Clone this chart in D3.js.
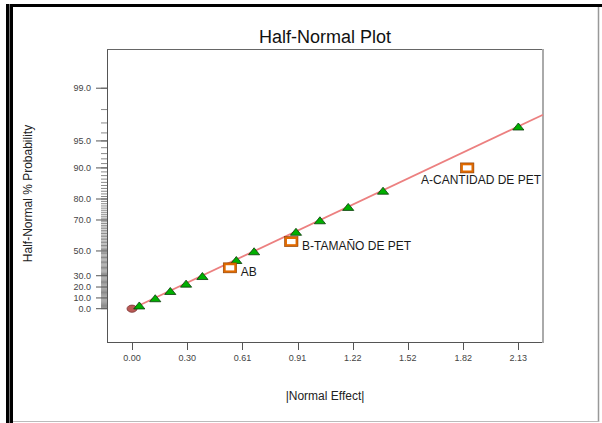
<!DOCTYPE html>
<html>
<head>
<meta charset="utf-8">
<script src="https://cdn.jsdelivr.net/npm/d3@7"></script>
<style>
  html, body { margin: 0; padding: 0; background: #fff; }
  svg { display: block; }
  text { font-family: Arial, "Liberation Sans", sans-serif; }
</style>
</head>
<body>
<svg id="chart" width="602" height="423"></svg>
<script>
// Error-term effects (triangles): |effect| and half-normal % probability
const errorEffects = [0.040, 0.128, 0.211, 0.298, 0.388, 0.575, 0.673, 0.904, 1.036, 1.192, 1.384, 2.130];
const errorProbs   = [3.3, 10.0, 16.7, 23.3, 30.0, 43.3, 50.0, 63.3, 70.0, 76.7, 83.3, 96.7];

// Selected model terms (squares)
const termNames   = ["A-CANTIDAD DE PET", "B-TAMAÑO DE PET", "AB"];
const termEffects = [1.848, 0.878, 0.540];
const termProbs   = [90.0, 56.7, 36.7];

// Axis ticks
const xTickValues = [0, 0.304, 0.609, 0.913, 1.217, 1.521, 1.826, 2.130];
const xTickLabels = ["0.00", "0.30", "0.61", "0.91", "1.22", "1.52", "1.82", "2.13"];
const yMajorTicks = [0, 10, 20, 30, 50, 70, 80, 90, 95, 99];
const yMinorTicks = d3.range(0, 100);

// Reference line through the origin: z = |effect| / sigma
const lineSigma = 1.0;

// Inverse standard normal CDF (Acklam's rational approximation)
function probit(p) {
  const a = [-3.969683028665376e+01, 2.209460984245205e+02, -2.759285104469687e+02,
             1.383577518672690e+02, -3.066479806614716e+01, 2.506628277459239e+00];
  const b = [-5.447609879822406e+01, 1.615858368580409e+02, -1.556989798598866e+02,
             6.680131188771972e+01, -1.328068155288572e+01];
  const c = [-7.784894002430293e-03, -3.223964580411365e-01, -2.400758277161838e+00,
             -2.549732539343734e+00, 4.374664141464968e+00, 2.938163982698783e+00];
  const d = [7.784695709041462e-03, 3.224671290700398e-01, 2.445134137142996e+00,
             3.754408661907416e+00];
  const pl = 0.02425, ph = 1 - pl;
  let q, r;
  if (p < pl) {
    q = Math.sqrt(-2 * Math.log(p));
    return (((((c[0]*q+c[1])*q+c[2])*q+c[3])*q+c[4])*q+c[5]) /
           ((((d[0]*q+d[1])*q+d[2])*q+d[3])*q+1);
  }
  if (p <= ph) {
    q = p - 0.5; r = q * q;
    return (((((a[0]*r+a[1])*r+a[2])*r+a[3])*r+a[4])*r+a[5])*q /
           (((((b[0]*r+b[1])*r+b[2])*r+b[3])*r+b[4])*r+1);
  }
  q = Math.sqrt(-2 * Math.log(1 - p));
  return -(((((c[0]*q+c[1])*q+c[2])*q+c[3])*q+c[4])*q+c[5]) /
          ((((d[0]*q+d[1])*q+d[2])*q+d[3])*q+1);
}
// half-normal score for a percent probability
const halfNormalZ = pct => probit(0.5 + pct / 200);

const svg = d3.select("#chart");
const plot = { left: 107, top: 49, right: 543, bottom: 342 };

const x = d3.scaleLinear().domain([-0.138, 2.266]).range([plot.left, plot.right]);
const yz = d3.scaleLinear().domain([-0.389, 3.034]).range([plot.bottom, plot.top]);
const y = pct => yz(halfNormalZ(pct));

// ---- outer window frame ----
svg.append("rect").attr("x", 6).attr("y", 4).attr("width", 596).attr("height", 3).attr("fill", "#000");
svg.append("rect").attr("x", 6).attr("y", 4).attr("width", 3).attr("height", 419).attr("fill", "#000");
svg.append("rect").attr("x", 9).attr("y", 4).attr("width", 1).attr("height", 419).attr("fill", "#777");
svg.append("rect").attr("x", 10).attr("y", 4).attr("width", 3).attr("height", 419).attr("fill", "#000");
svg.append("line").attr("x1", 598.5).attr("x2", 598.5).attr("y1", 7).attr("y2", 422)
  .attr("stroke", "#999").attr("stroke-width", 1.5);
svg.append("line").attr("x1", 13).attr("x2", 599).attr("y1", 421.5).attr("y2", 421.5)
  .attr("stroke", "#bbb").attr("stroke-width", 1);

// ---- title ----
svg.append("text")
  .attr("x", (plot.left + plot.right) / 2).attr("y", 43)
  .attr("text-anchor", "middle").attr("font-size", 18).attr("fill", "#111")
  .text("Half-Normal Plot");

// ---- y axis minor + major ticks ----
const yAxisG = svg.append("g");
yAxisG.selectAll("line.minor").data(yMinorTicks).join("line")
  .attr("class", "minor")
  .attr("x1", plot.left - 6).attr("x2", plot.left)
  .attr("y1", d => y(d)).attr("y2", d => y(d))
  .attr("stroke", "#8a8a8a").attr("stroke-width", 1);
yAxisG.selectAll("line.major").data(yMajorTicks).join("line")
  .attr("class", "major")
  .attr("x1", plot.left - 11).attr("x2", plot.left)
  .attr("y1", d => y(d)).attr("y2", d => y(d))
  .attr("stroke", "#555").attr("stroke-width", 1);
yAxisG.selectAll("text").data(yMajorTicks).join("text")
  .attr("x", plot.left - 16).attr("y", d => y(d) + 3.2)
  .attr("text-anchor", "end").attr("font-size", 9).attr("fill", "#444")
  .text(d => d3.format(".1f")(d));

// ---- x axis ticks ----
const xAxisG = svg.append("g");
xAxisG.selectAll("line").data(xTickValues).join("line")
  .attr("x1", d => Math.round(x(d)) + 0.5).attr("x2", d => Math.round(x(d)) + 0.5)
  .attr("y1", plot.bottom).attr("y2", plot.bottom + 8)
  .attr("stroke", "#555").attr("stroke-width", 1);
xAxisG.selectAll("text").data(xTickValues).join("text")
  .attr("x", d => x(d)).attr("y", plot.bottom + 18.5)
  .attr("text-anchor", "middle").attr("font-size", 9).attr("fill", "#444")
  .text((d, i) => xTickLabels[i]);

// ---- plot frame ----
svg.append("line").attr("x1", plot.left + 0.5).attr("x2", plot.left + 0.5)
  .attr("y1", plot.top).attr("y2", plot.bottom + 0.5).attr("stroke", "#555");
svg.append("line").attr("x1", plot.left).attr("x2", plot.right)
  .attr("y1", plot.bottom + 0.5).attr("y2", plot.bottom + 0.5).attr("stroke", "#555");
svg.append("line").attr("x1", plot.left).attr("x2", plot.right)
  .attr("y1", plot.top + 0.5).attr("y2", plot.top + 0.5).attr("stroke", "#666");
svg.append("line").attr("x1", plot.right).attr("x2", plot.right)
  .attr("y1", plot.top).attr("y2", plot.bottom + 1).attr("stroke", "#aaa").attr("stroke-width", 2);

// ---- axis titles ----
svg.append("text")
  .attr("x", (plot.left + plot.right) / 2).attr("y", 400)
  .attr("text-anchor", "middle").attr("font-size", 12).attr("fill", "#222")
  .text("|Normal Effect|");
svg.append("text")
  .attr("transform", `translate(32,${(plot.top + plot.bottom) / 2 - 2}) rotate(-90)`)
  .attr("text-anchor", "middle").attr("font-size", 12).attr("fill", "#222")
  .text("Half-Normal % Probability");

// ---- reference line ----
const xMax = x.domain()[1];
svg.append("line")
  .attr("x1", x(0)).attr("y1", yz(0))
  .attr("x2", x(xMax)).attr("y2", yz(xMax / lineSigma))
  .attr("stroke", "#ec8080").attr("stroke-width", 1.8);

// origin marker
svg.append("ellipse")
  .attr("cx", x(0)).attr("cy", yz(0)).attr("rx", 5).attr("ry", 3.6)
  .attr("fill", "#b95a55").attr("stroke", "#7a3232").attr("stroke-width", 0.8);

// ---- error-term triangles ----
const tri = d3.path ? null : null;
svg.append("g").selectAll("path").data(errorEffects).join("path")
  .attr("d", (d, i) => {
    const cx = x(d), cy = y(errorProbs[i]);
    return `M${cx},${cy - 3.2}L${cx + 5.6},${cy + 3.8}L${cx - 5.6},${cy + 3.8}Z`;
  })
  .attr("fill", "#00b000").attr("stroke", "#0a3a0a").attr("stroke-width", 0.8)
  .attr("stroke-linejoin", "miter");

// ---- model-term squares and labels ----
const termG = svg.append("g");
termG.selectAll("rect.outer").data(termEffects).join("rect")
  .attr("class", "outer")
  .attr("x", d => x(d) - 5.5)
  .attr("y", (d, i) => y(termProbs[i]) - 3.8)
  .attr("width", 11).attr("height", 7.6)
  .attr("fill", "#fff").attr("stroke", "#e06a00").attr("stroke-width", 2.4);
termG.selectAll("rect.edge").data(termEffects).join("rect")
  .attr("class", "edge")
  .attr("x", d => x(d) - 6.7)
  .attr("y", (d, i) => y(termProbs[i]) - 5)
  .attr("width", 13.4).attr("height", 10)
  .attr("fill", "none").attr("stroke", "#8a3c00").attr("stroke-width", 0.6);

termG.selectAll("text").data(termNames).join("text")
  .attr("font-size", 12).attr("fill", "#1a1a1a")
  .text(d => d)
  .each(function (d, i) {
    const t = d3.select(this);
    const cx = x(termEffects[i]), cy = y(termProbs[i]);
    const w = this.getComputedTextLength();
    if (cx + 10.7 + w > plot.right - 2) {
      // not enough room on the right: place under the marker, inside the frame
      t.attr("x", plot.right - 2).attr("y", cy + 15.6).attr("text-anchor", "end");
    } else {
      t.attr("x", cx + 10.7).attr("y", cy + 8).attr("text-anchor", "start");
    }
  });
</script>
</body>
</html>
